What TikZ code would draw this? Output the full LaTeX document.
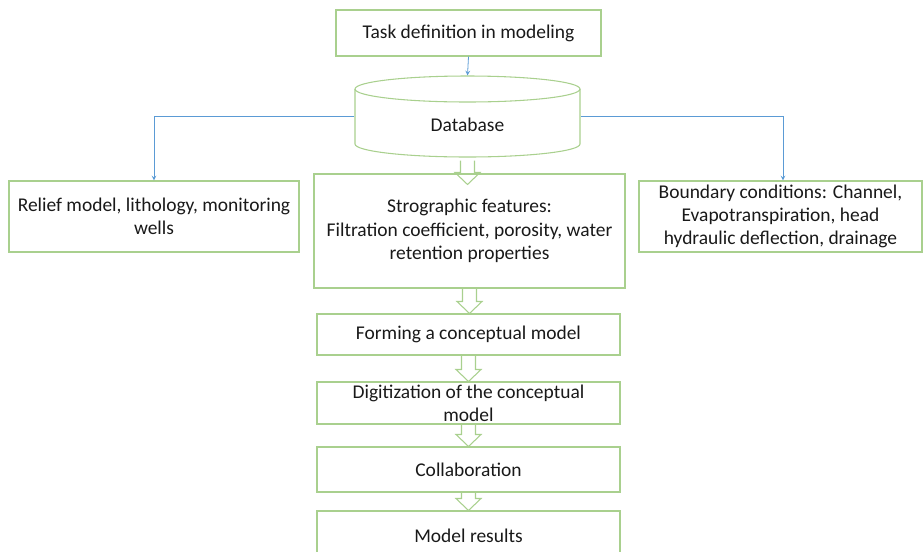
\documentclass[tikz,border=0pt]{standalone}
\usepackage{fontspec}
\setmainfont{Carlito}
\usetikzlibrary{calc}

\definecolor{boxgreen}{RGB}{169,208,142}
\definecolor{linkblue}{RGB}{91,155,213}

\tikzset{
  box/.style={draw=boxgreen, line width=0.8pt, inner sep=0pt, align=center,
    font=\fontsize{14.6}{17.4}\selectfont, text=black!90},
  link/.style={draw=linkblue, line width=0.6pt, ->},
  hollow/.style={draw=boxgreen, line width=0.8pt}
}

% hollow block arrow from #1 down to tip #2
\newcommand\hollowarrow[2]{%
  \draw[hollow] let \p1=(#1), \p2=(#2) in
    (\x1-5.25pt,\y1) -- (\x1-5.25pt,\y2+9pt) -- (\x1-9.4pt,\y2+9pt) -- (\x1,\y2)
    -- (\x1+9.4pt,\y2+9pt) -- (\x1+5.25pt,\y2+9pt) -- (\x1+5.25pt,\y1);
}

\begin{document}
\begin{tikzpicture}[>=stealth, x=0.75pt, y=-0.75pt]
\useasboundingbox (0,0) rectangle (924,551);
\clip (0,0) rectangle (924,551);

% ----- Boxes -----
\node[box, minimum width=198.75pt, minimum height=34.5pt] (task) at (468.5,33) {Task definition in modeling};
\node[box, minimum width=217.5pt, minimum height=53.25pt] (relief) at (154,216.5) {Relief model, lithology, monitoring\\wells};
\node[box, minimum width=212.25pt, minimum height=53.25pt] (bound) at (780.5,216.5) {Boundary conditions: Channel,\\Evapotranspiration, head\\hydraulic deflection, drainage};
\node[box, minimum width=233.25pt, minimum height=85.5pt] (strat) at (469.5,231) {Strographic features:\\Filtration coefficient, porosity, water\\retention properties};
\node[box, minimum width=227.25pt, minimum height=30.75pt] (concept) at (468.5,334.5) {Forming a conceptual model};
\node[box, minimum width=227.25pt, minimum height=31.5pt] (digit) at (468.5,403) {Digitization of the conceptual\\model};
\node[box, minimum width=227.25pt, minimum height=33.75pt] (collab) at (468.5,469.5) {Collaboration};
\node[box, minimum width=227.25pt, minimum height=36.75pt] (result) at (468.5,535.5) {Model results};

% ----- Database cylinder -----
\node[box, draw=none, minimum width=168.75pt, minimum height=60.75pt] (db) at (467.5,116.5) {\raisebox{-11pt}[0pt][0pt]{Database}};
\draw[hollow] (467.5,89) ellipse [x radius=112.5, y radius=13];
\draw[hollow] (355,89) -- (355,144) arc [start angle=180, end angle=0, x radius=112.5, y radius=13] -- (580,89);

% ----- Blue connectors -----
\draw[link] (task.south) -- (db.north);
\draw[link] (db.west) -| (relief.north);
\draw[link] (db.east) -| ($(bound.north)+(2.5,0)$);

% ----- Hollow arrows -----
\hollowarrow{$(db.south)+(0,3)$}{$(strat.north)+(0,11)$}
\foreach \a/\b in {strat/concept, concept/digit, digit/collab, collab/result}{
  \hollowarrow{\a.south}{\b.north}
}
\end{tikzpicture}
\end{document}
